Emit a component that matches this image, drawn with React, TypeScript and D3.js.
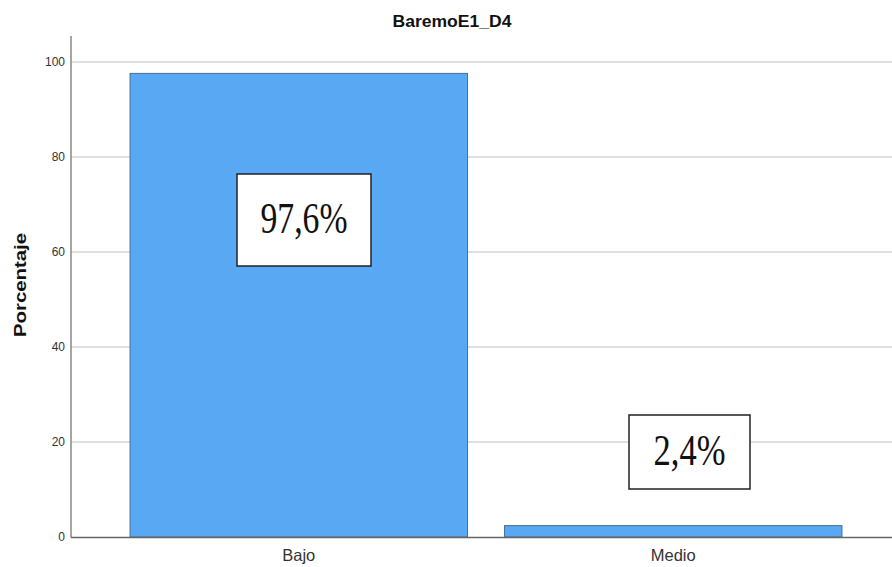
import React from "react";
import * as d3 from "d3";

const categories = ["Bajo", "Medio"];
const values = [97.6, 2.4];
const valueLabels = ["97,6%", "2,4%"];
const yTicks = [0, 20, 40, 60, 80, 100];
const title = "BaremoE1_D4";
const yTitle = "Porcentaje";

// annotation boxes (x, y, w, h in px) and text widths
const boxes = [
  { x: 237, y: 174, w: 134, h: 92, tw: 87 },
  { x: 629, y: 415, w: 121, h: 74, tw: 72 },
];

export default function App() {
  const W = 892;
  const H = 567;
  const axisX = 71;
  const y = d3.scaleLinear().domain([0, 100]).range([537, 62]);
  const x = d3
    .scaleBand<string>()
    .domain(categories)
    .range([72, 900])
    .paddingInner(0.0987)
    .paddingOuter(0.155);
  const sans = "'Liberation Sans', Arial, sans-serif";
  const serif = "'Liberation Serif', 'Times New Roman', serif";
  return (
    <svg
      width={W}
      height={H}
      style={{ position: "absolute", left: 0, top: 0, background: "#fff" }}
    >
      <text
        x={452}
        y={27}
        textAnchor="middle"
        fontFamily={sans}
        fontWeight="bold"
        fontSize={16}
        textLength={119}
        lengthAdjust="spacingAndGlyphs"
        fill="#111"
      >
        {title}
      </text>
      {yTicks.map((t) =>
        t > 0 ? (
          <line
            key={"g" + t}
            x1={axisX}
            x2={W}
            y1={y(t)}
            y2={y(t)}
            stroke="#d6d6d6"
            strokeWidth={1.5}
          />
        ) : null
      )}
      {yTicks.map((t) => (
        <text
          key={"t" + t}
          x={65}
          y={y(t) + 4}
          textAnchor="end"
          fontFamily={sans}
          fontSize={12}
          fill="#333"
        >
          {t}
        </text>
      ))}
      <text
        transform={`translate(26,${285}) rotate(-90)`}
        textAnchor="middle"
        fontFamily={sans}
        fontWeight="bold"
        fontSize={16}
        textLength={104}
        lengthAdjust="spacingAndGlyphs"
        fill="#111"
      >
        {yTitle}
      </text>
      {categories.map((c, i) => (
        <rect
          key={"b" + c}
          x={x(c)}
          y={y(values[i])}
          width={x.bandwidth()}
          height={y(0) - y(values[i])}
          fill="#58a8f4"
          stroke="#4b6f8f"
          strokeWidth={1}
        />
      ))}
      <line x1={axisX} x2={axisX} y1={36} y2={537.5} stroke="#888" strokeWidth={1.5} />
      <line x1={axisX} x2={W} y1={537.5} y2={537.5} stroke="#666" strokeWidth={1.5} />
      {categories.map((c) => (
        <text
          key={"c" + c}
          x={(x(c) as number) + x.bandwidth() / 2}
          y={561}
          textAnchor="middle"
          fontFamily={sans}
          fontSize={16.5}
          fill="#333"
        >
          {c}
        </text>
      ))}
      {boxes.map((b, i) => (
        <g key={"l" + i}>
          <rect
            x={b.x}
            y={b.y}
            width={b.w}
            height={b.h}
            fill="#fff"
            stroke="#222"
            strokeWidth={1.5}
          />
          <text
            x={b.x + b.w / 2}
            y={b.y + b.h / 2 + 13}
            textAnchor="middle"
            fontFamily={serif}
            fontSize={44}
            textLength={b.tw}
            lengthAdjust="spacingAndGlyphs"
            fill="#111"
          >
            {valueLabels[i]}
          </text>
        </g>
      ))}
    </svg>
  );
}
